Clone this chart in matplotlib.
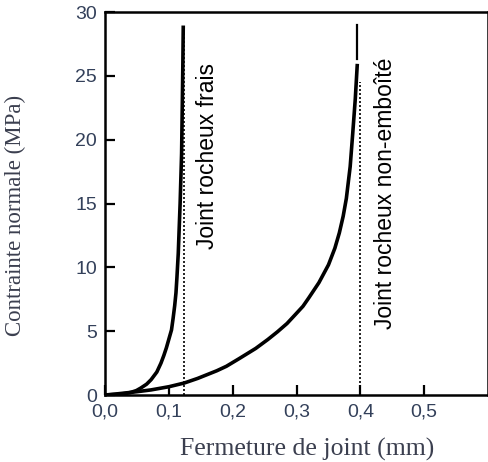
import matplotlib
matplotlib.use("Agg")
from matplotlib import pyplot as plt

# joint rocheux frais (fresh joint)
frais_x = [0, 0.02, 0.032, 0.04, 0.049, 0.056, 0.065, 0.072, 0.081, 0.0875, 0.092, 0.096, 0.100,
           0.104, 0.1065, 0.109, 0.111, 0.1125, 0.1146, 0.116, 0.1175, 0.1198, 0.121, 0.1218, 0.1224]
frais_y = [0, 0.05, 0.12, 0.2, 0.35, 0.55, 0.85, 1.2, 1.8, 2.5, 3.1, 3.7, 4.4,
           5.1, 6.0, 7.0, 8.0, 9.2, 11.1, 13, 15, 18.9, 23, 26, 28.8]

# joint rocheux non-emboite (mismatched joint)
non_x = [0, 0.015, 0.03, 0.05, 0.072, 0.1, 0.124, 0.145, 0.16, 0.175, 0.19, 0.21, 0.236, 0.255,
         0.27, 0.285, 0.298, 0.31, 0.319, 0.335, 0.35, 0.36, 0.367, 0.373, 0.378, 0.384, 0.388,
         0.392, 0.395]
non_y = [0, 0.07, 0.15, 0.26, 0.4, 0.65, 0.94, 1.3, 1.6, 1.9, 2.25, 2.85, 3.65, 4.35,
         4.95, 5.6, 6.3, 6.95, 7.6, 8.8, 10.2, 11.5, 12.7, 14.0, 15.4, 17.9, 20.5,
         23.2, 25.8]
non_top_x = [0.395, 0.395]
non_top_y = [26.3, 29]

# max closure asymptotes (dotted)
vmax_x = [0.124, 0.40]
vmax_top = [28.5, 24.5]

xticks = [0, 0.1, 0.2, 0.3, 0.4, 0.5]
xticklabels = ["0,0", "0,1", "0,2", "0,3", "0,4", "0,5"]
yticks = [0, 5, 10, 15, 20, 25, 30]

tick_col = "#33405a"
lab_col = "#3b3f4f"

fig = plt.figure(figsize=(4.89, 4.62), dpi=100)
ax = fig.add_axes([0.215, 0.145, 0.783, 0.829])

for xv, top in zip(vmax_x, vmax_top):
    ax.plot([xv, xv], [0, top], color="black", lw=1.2, ls=(0, (1.2, 1.2)))
ax.plot(frais_x, frais_y, color="black", lw=2.6, solid_joinstyle="round")
ax.plot(non_x, non_y, color="black", lw=2.6, solid_joinstyle="round")
ax.plot(non_top_x, non_top_y, color="black", lw=1.6)

ax.text(0.161, 18.75, "Joint rocheux frais", rotation=90, ha="center", va="center",
        fontsize=16.5, family="Liberation Sans")
ax.text(0.44, 15.8, "Joint rocheux non-emboîté", rotation=90, ha="center", va="center",
        fontsize=16.5, family="Liberation Sans")

ax.set_xlim(0, 0.6)
ax.set_ylim(0, 30)
ax.set_xticks(xticks)
ax.set_xticklabels(xticklabels)
ax.set_yticks(yticks)
ax.tick_params(direction="in", length=7, width=1.6, pad=6, labelsize=14,
               labelcolor=tick_col, top=False, right=False)
for lbl in ax.get_xticklabels() + ax.get_yticklabels():
    lbl.set_family("Liberation Sans")
for s in ax.spines.values():
    s.set_linewidth(1.8)

ax.set_xlabel("Fermeture de joint (mm)", fontsize=18.5, family="Liberation Serif", color=lab_col)
ax.set_ylabel("Contrainte normale (MPa)", fontsize=16.5, family="Liberation Serif", color=lab_col)
ax.xaxis.set_label_coords(0.527, -0.112)
ax.yaxis.set_label_coords(-0.207, 0.47)

fig.savefig("out.png", dpi=100)
